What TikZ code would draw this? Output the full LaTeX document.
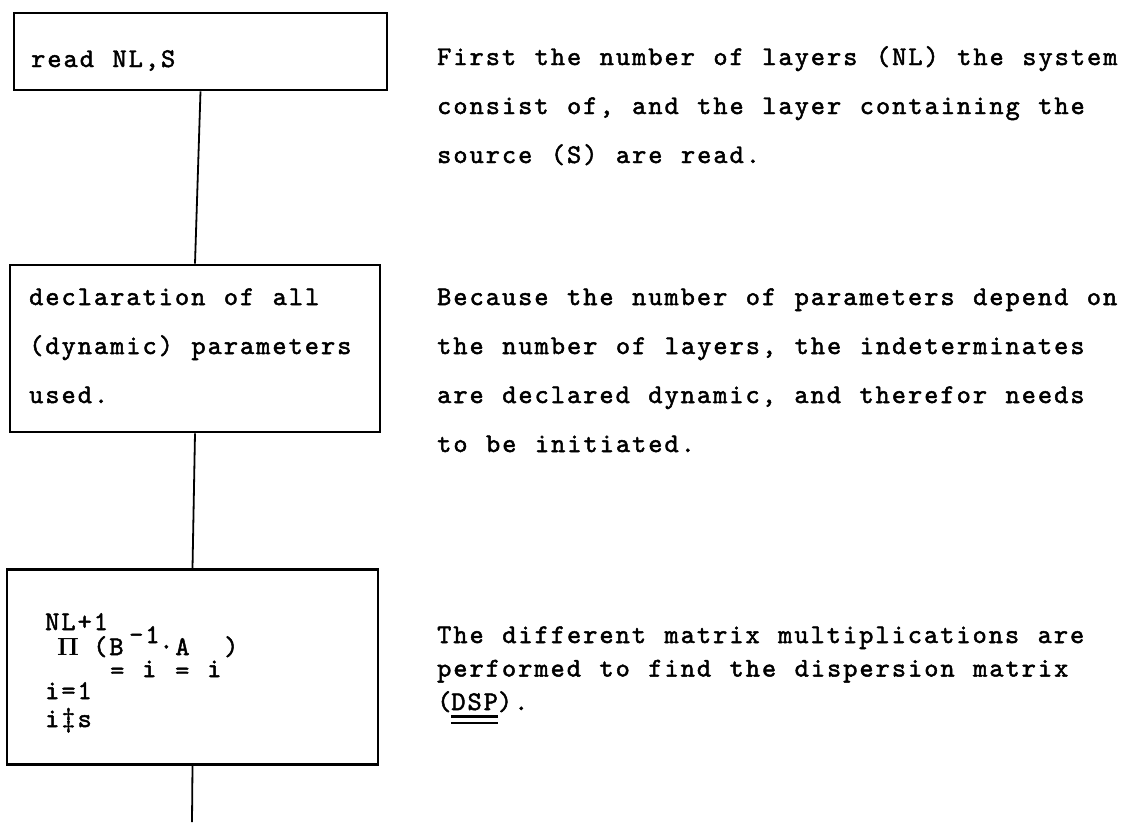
\documentclass[tikz,border=0pt]{standalone}
\usepackage{fontspec}
\usetikzlibrary{positioning}
\newfontfamily\typer{lmmono10-regular.otf}[LetterSpace=7.5,WordSpace={1.142,0,0},FakeBold=1.8]
\newcommand\dunder[1]{\vtop{\hbox{#1}\kern5pt\hrule height 2.2pt\kern4pt\hrule height 2.2pt}}
\frenchspacing

\begin{document}
\begin{tikzpicture}[x=1pt,y=-1pt,
  box/.style={draw,line width=2.6pt,inner sep=0pt},
  link/.style={line width=1.8pt},
  txt/.style={anchor=base west,inner sep=0pt,align=left,font=\fontsize{27pt}{49pt}\typer},
  tight/.style={txt,font=\fontsize{27pt}{33.5pt}\typer}
]
\useasboundingbox (0,0) rectangle (1126,822);
% flow chart on the left
\node[box,minimum width=373pt,minimum height=77pt] (readbox) at (200.5,51.5) {};
\node[box,minimum width=370pt,minimum height=167pt] (declbox) at (195,348.5) {};
\node[box,minimum width=371pt,minimum height=195pt] (prodbox) at (192.5,667) {};
\coordinate (bot) at (192,822);
\draw[link] (readbox.south) -- (declbox.north);
\draw[link] (declbox.south) -- (prodbox.north);
\draw[link] (prodbox.south) -- (bot);
% box texts (multi-line nodes sit on their last line)
\node[txt] (readtxt) at (31,67) {read NL,S};
\node[txt] (decltxt) at (29,403) {declaration of all\\(dynamic) parameters\\used.};
\node[txt] (nltop) at (45,630) {NL+1};
\node[txt,font=\fontsize{27pt}{30pt}\selectfont\boldmath] (piop) at (57,655) {$\Pi$};
\node[txt] (lpar) at (93,655) {(B};
\node[txt] (supm) at (129,643) {-1};
\node[txt] (dota) at (159,655) {·A};
\node[txt] (rpar) at (224,655) {)};
\node[txt] (ulb) at (110,679) {=};
\node[txt] (subb) at (142,677) {i};
\node[txt] (ula) at (175,679) {=};
\node[txt] (suba) at (207,677) {i};
\node[txt] (ilow) at (45,699) {i=1};
\node[txt] (ineq) at (45,727) {i‡s};
% comments on the right
\node[txt] (notea) at (437,163) {First the number of layers (NL) the system\\consist of, and the layer containing the\\source (S) are read.};
\node[txt] (noteb) at (437,452) {Because the number of parameters depend on\\the number of layers, the indeterminates\\are declared dynamic, and therefor needs\\to be initiated.};
\node[tight] (notec) at (437,710) {The different matrix multiplications are\\performed to find the dispersion matrix\\(\dunder{DSP}).};
\end{tikzpicture}
\end{document}
